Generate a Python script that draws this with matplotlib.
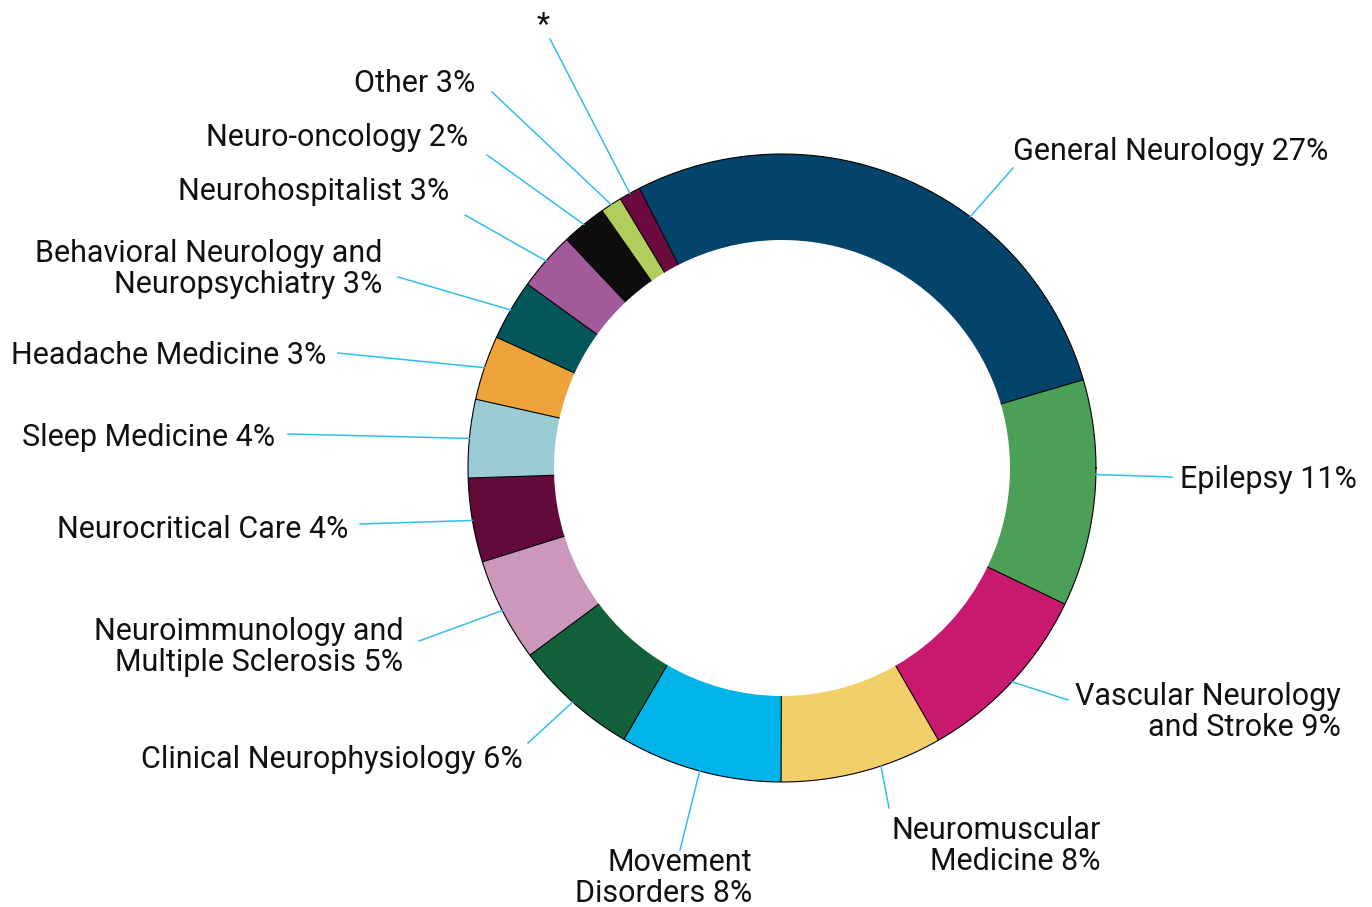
import numpy as np
import matplotlib.pyplot as plt

plt.rcParams['font.family'] = ['Roboto', 'DejaVu Sans']

# data (share of segment, clockwise from General Neurology)
labels = ['General Neurology 27%', 'Epilepsy 11%', 'Vascular Neurology\nand Stroke 9%',
          'Neuromuscular\nMedicine 8%', 'Movement\nDisorders 8%', 'Clinical Neurophysiology 6%',
          'Neuroimmunology and\nMultiple Sclerosis 5%', 'Neurocritical Care 4%',
          'Sleep Medicine 4%', 'Headache Medicine 3%',
          'Behavioral Neurology and\nNeuropsychiatry 3%', 'Neurohospitalist 3%',
          'Neuro-oncology 2%', 'Other 3%', '*']
shares = [27.8, 11.6, 9.5, 8.3, 8.3, 6.4, 5.3, 4.3, 4.0, 3.3, 3.1, 3.0, 2.3, 1.1, 1.1]
colors = ['#04436A', '#4C9F56', '#C8196E', '#F3CF6A', '#00B4E9', '#12613B', '#CB97BA',
          '#630A3B', '#9ACCD6', '#EEA23A', '#03575B', '#A25A9A', '#0D0D0D', '#B1CE5C',
          '#6A0A3E']

# layout (pixel coords, y from top)
W, H = 1372, 907
cx, cy = 782, 468
r_out, r_in = 314, 228
start = 117  # degrees, matplotlib convention

# label anchor, alignment, leader end point
label_pos = [(1013, 152, 'left'), (1180, 479, 'left'), (1341, 712, 'right'),
             (1101, 846, 'right'), (752, 878, 'right'), (523, 760, 'right'),
             (403, 647, 'right'), (348, 530, 'right'), (275, 438, 'right'),
             (326, 356, 'right'), (382, 269, 'right'), (449, 192, 'right'),
             (468, 138, 'right'), (475, 84, 'right'), (543, 25, 'center')]
leader_end = [(1013, 168), (1172, 477), (1068, 700), (889, 808), (680, 850),
              (528, 743), (419, 641), (360, 524), (288, 434), (338, 353),
              (398, 277), (465, 215), (487, 155), (492, 92), (550, 39)]
leader_shift = {0: 13.5, 1: -3.5, 3: -3.5}

fig = plt.figure(figsize=(13.72, 9.07), dpi=100)
ax = fig.add_axes([0, 0, 1, 1])

ax.pie(shares, radius=r_out, center=(cx, H - cy), startangle=start,
       counterclock=False, colors=colors,
       wedgeprops=dict(width=r_out - r_in, edgecolor='none', linewidth=0))

total = sum(shares)
cum = np.concatenate([[0], np.cumsum(shares)])
bounds = start - 360 * cum / total

# segment boundaries and outer outline
for b in bounds[:-1]:
    t = np.deg2rad(b)
    ax.plot([cx + r_in * np.cos(t), cx + r_out * np.cos(t)],
            [H - cy + r_in * np.sin(t), H - cy + r_out * np.sin(t)],
            color='black', lw=0.8, solid_capstyle='butt')
tt = np.linspace(0, 2 * np.pi, 600)
ax.plot(cx + r_out * np.cos(tt), H - cy + r_out * np.sin(tt), color='black', lw=0.8)

# leader lines and labels
for i, lab in enumerate(labels):
    mid = (bounds[i] + bounds[i + 1]) / 2 - leader_shift.get(i, 0)
    t = np.deg2rad(mid)
    x0, y0 = cx + r_out * np.cos(t), H - cy + r_out * np.sin(t)
    ex, ey = leader_end[i]
    ax.plot([x0, ex], [y0, H - ey], color='#34BEEC', lw=1.1)
    lx, ly, ha = label_pos[i]
    ax.text(lx, H - ly, lab, ha=ha, va='center', fontsize=22, color='#111111',
            linespacing=1.1, multialignment=ha if ha != 'center' else 'center')

ax.set_xlim(0, W)
ax.set_ylim(0, H)
ax.set_aspect('equal')
ax.axis('off')

plt.savefig('out.png', dpi=100, facecolor='white')
